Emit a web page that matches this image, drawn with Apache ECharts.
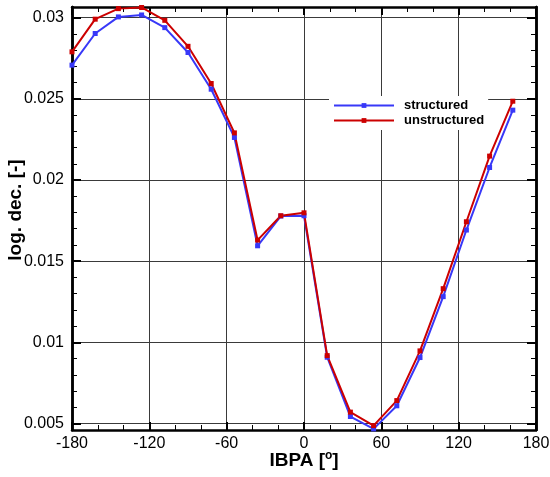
<!DOCTYPE html>
<html>
<head>
<meta charset="utf-8">
<script src="https://cdn.jsdelivr.net/npm/echarts@6/dist/echarts.min.js"></script>
<style>
html, body {margin: 0; padding: 0; background: #fff;}
#chart {width: 550px; height: 477px;}
</style>
</head>
<body>
<div id="chart"></div>
<script>
// IBPA angles in degrees
var ibpa = [-180, -162, -144, -126, -108, -90, -72, -54, -36, -18,
	0, 18, 36, 54, 72, 90, 108, 126, 144, 162];
var structured = [0.02707, 0.02902, 0.03004, 0.03016, 0.02938, 0.02785, 0.02559, 0.02262, 0.01595, 0.01778,
	0.01780, 0.00909, 0.00544, 0.00468, 0.00610, 0.00907, 0.01282, 0.01692, 0.02077, 0.02430];
var unstructured = [0.02789, 0.02990, 0.03055, 0.03062, 0.02983, 0.02823, 0.02594, 0.02290, 0.01630, 0.01780,
	0.01798, 0.00919, 0.00571, 0.00488, 0.00642, 0.00948, 0.01331, 0.01743, 0.02147, 0.02485];

var yMajor = [0.005, 0.01, 0.015, 0.02, 0.025, 0.03];
var yMinor = [0.006, 0.007, 0.008, 0.009, 0.011, 0.012, 0.013, 0.014, 0.016, 0.017, 0.018, 0.019,
	0.021, 0.022, 0.023, 0.024, 0.026, 0.027, 0.028, 0.029];

var font = 'Liberation Sans, Arial, Helvetica, sans-serif';

function pair(arr) {
	var out = [];
	for (var i = 0; i < ibpa.length; i++) {
		out.push([ibpa[i], arr[i]]);
	}
	return out;
}

var frame = { show: true, onZero: false, lineStyle: { color: '#000', width: 2.5 } };

function xAxisDef(pos, showLabel) {
	return {
		type: 'value',
		position: pos,
		min: -180,
		max: 180,
		interval: 60,
		axisLine: frame,
		axisTick: { show: true, inside: true, length: 8, lineStyle: { color: '#000', width: 2 } },
		minorTick: { show: true, splitNumber: 3, length: 5, lineStyle: { color: '#000', width: 1 } },
		axisLabel: { show: showLabel, color: '#000', fontSize: 16, fontFamily: font, margin: 6 },
		splitLine: { show: showLabel, lineStyle: { color: '#3a3a3a', width: 1 } },
		minorSplitLine: { show: false }
	};
}

function yAxisDef(pos, values, len, w, showLabel, grid) {
	return {
		type: 'value',
		position: pos,
		min: 0.00461,
		max: 0.03065,
		axisLine: frame,
		axisTick: { show: true, inside: true, length: len, customValues: values, lineStyle: { color: '#000', width: w } },
		axisLabel: { show: showLabel, customValues: values, color: '#000', fontSize: 16, fontFamily: font, margin: 8 },
		splitLine: { show: grid, lineStyle: { color: '#3a3a3a', width: 1 } }
	};
}

var yLeft = yAxisDef('left', yMajor, 9, 2, true, true);
yLeft.name = 'log. dec. [-]';
yLeft.nameLocation = 'middle';
yLeft.nameGap = 47;
yLeft.nameMoveOverlap = false;
yLeft.nameTextStyle = { color: '#000', fontSize: 19, fontWeight: 'bold', fontFamily: font, padding: [0, 0, 0, 17] };

var xBottom = xAxisDef('bottom', true);
xBottom.name = 'IBPA [{s|o}]';
xBottom.nameLocation = 'middle';
xBottom.nameGap = 20;
xBottom.nameMoveOverlap = false;
xBottom.nameTextStyle = {
	color: '#000', fontSize: 19, fontWeight: 'bold', fontFamily: font,
	rich: { s: { fontSize: 12, fontWeight: 'bold', fontFamily: font, color: '#000', verticalAlign: 'top', padding: [0, 0, 9, 0] } }
};

var myChart = echarts.init(document.getElementById('chart'));
var option = {
	animation: false,
	backgroundColor: '#fff',
	grid: { left: 72, right: 14, top: 7, bottom: 47, outerBoundsMode: 'none', containLabel: false },
	legend: {
		orient: 'vertical',
		left: 329,
		top: 96,
		padding: [3, 4],
		itemWidth: 60,
		itemHeight: 6,
		itemGap: 2,
		backgroundColor: '#fff',
		textStyle: { color: '#000', fontSize: 13, fontWeight: 'bold', fontFamily: font, padding: [0, 0, 0, 5] },
		data: ['structured', 'unstructured']
	},
	xAxis: [xBottom, xAxisDef('top', false)],
	yAxis: [
		yLeft,
		yAxisDef('left', yMinor, 5, 1, false, false),
		yAxisDef('right', yMajor, 9, 2, false, false),
		yAxisDef('right', yMinor, 5, 1, false, false)
	],
	series: [
		{
			name: 'structured',
			type: 'line',
			data: pair(structured),
			symbol: 'rect',
			symbolSize: 5,
			itemStyle: { color: '#3838f8' },
			lineStyle: { color: '#3838f8', width: 2 }
		},
		{
			name: 'unstructured',
			type: 'line',
			data: pair(unstructured),
			symbol: 'rect',
			symbolSize: 5,
			itemStyle: { color: '#cc0000' },
			lineStyle: { color: '#cc0000', width: 2 }
		}
	]
};
myChart.setOption(option);
</script>
</body>
</html>
